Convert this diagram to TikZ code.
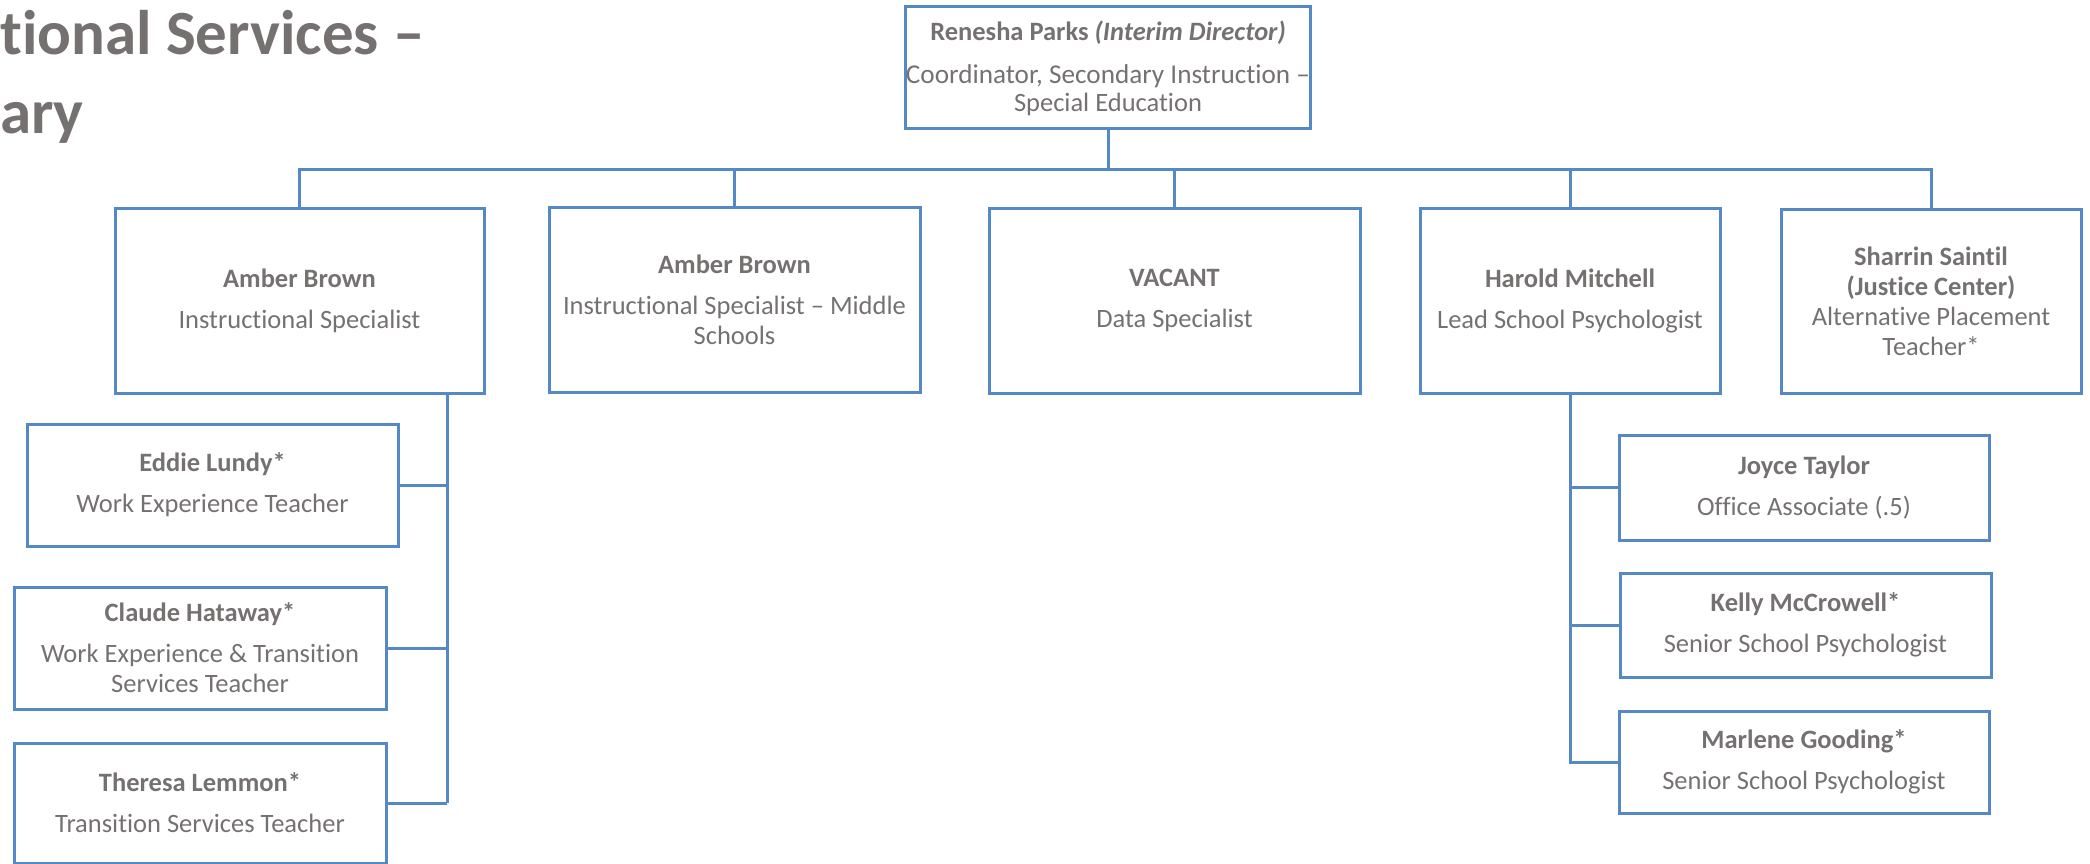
\documentclass[tikz,border=0pt]{standalone}
\usepackage{fontspec}
\setmainfont{Carlito}[Ligatures={NoCommon,NoContextual,NoRequired}]
\definecolor{boxblue}{HTML}{5489C5}
\definecolor{txtgray}{HTML}{767171}
\newcommand\nm[1]{\textbf{#1}}
\newcommand\ti{t\kern0pt i}
\begin{document}
\begin{tikzpicture}[x=1pt,y=-1pt,
  box/.style={draw=boxblue, line width=3pt, inner sep=0pt, align=center, text=txtgray,
    font=\fontsize{26.5}{30}\selectfont},
  conn/.style={draw=boxblue, line width=3pt}]
\useasboundingbox (0,0) rectangle (2090,864);
% title
\node[anchor=base west, inner sep=0pt, text=txtgray, font=\fontsize{63}{78}\selectfont\bfseries] (t1) at (0,55) {\ti onal Services –};
\node[anchor=base west, inner sep=0pt, text=txtgray, font=\fontsize{63}{78}\selectfont\bfseries] (t2) at (0,133) {ary};
% top
\node[box, minimum width=404pt, minimum height=122pt] (top) at (1108,68)
  {\nm{Renesha Parks \textit{(Interim Director)}}\\[13pt]{\fontsize{27.2}{30}\selectfont Coordinator, Secondary Instruc\ti on –}\\[-2pt]Special Educa\ti on};
% level 2
\node[box, minimum width=369pt, minimum height=185pt] (a1) at (299.5,300.5)
  {\nm{Amber Brown}\\[11pt]Instruc\ti onal Specialist};
\node[box, minimum width=371pt, minimum height=185pt] (a2) at (734.5,299.5)
  {\nm{Amber Brown}\\[11pt]Instruc\ti onal Specialist – Middle\\Schools};
\node[box, minimum width=371pt, minimum height=185pt] (v) at (1174.5,300.5)
  {\nm{VACANT}\\[11pt]Data Specialist};
\node[box, minimum width=300pt, minimum height=185pt] (h) at (1570,300.5)
  {\nm{Harold Mitchell}\\[11pt]Lead School Psychologist};
\node[box, minimum width=300pt, minimum height=184pt] (s) at (1931,301)
  {\nm{Sharrin Sain\ti l}\\\nm{(Jus\ti ce Center)}\\Alterna\ti ve Placement\\Teacher*};
% left subordinates
\node[box, minimum width=371pt, minimum height=122pt] (eddie) at (212.5,485)
  {\nm{Eddie Lundy*}\\[11pt]Work Experience Teacher};
\node[box, minimum width=372pt, minimum height=122pt] (claude) at (200,648)
  {\nm{Claude Hataway*}\\[11pt]Work Experience \& Transi\ti on\\Services Teacher};
\node[box, minimum width=372pt, minimum height=120pt] (theresa) at (200,803)
  {\nm{Theresa Lemmon*}\\[11pt]Transi\ti on Services Teacher};
% right subordinates
\node[box, minimum width=370pt, minimum height=105pt] (joyce) at (1804,487.5)
  {\nm{Joyce Taylor}\\[11pt]Office Associate (.5)};
\node[box, minimum width=371pt, minimum height=104pt] (kelly) at (1805.5,625)
  {\nm{Kelly McCrowell*}\\[11pt]Senior School Psychologist};
\node[box, minimum width=370pt, minimum height=102pt] (marlene) at (1804,762)
  {\nm{Marlene Gooding*}\\[11pt]Senior School Psychologist};
% connectors
\coordinate (bus) at (1108,169);
\draw[conn] (top.south) -- (bus);
\draw[conn] (bus) -| (a1.north);
\draw[conn] (bus) -| (a2.north);
\draw[conn] (bus) -| (v.north);
\draw[conn] (bus) -| (h.north);
\draw[conn] (bus) -| (s.north);
\coordinate (lbus) at (447,803);
\draw[conn] (a1.south -| lbus) -- (lbus);
\draw[conn] (eddie.east) -- (eddie.east -| lbus);
\draw[conn] (claude.east) -- (claude.east -| lbus);
\draw[conn] (theresa.east) -- (lbus);
\draw[conn] (h.south) |- (marlene.west);
\draw[conn] (h.south |- joyce.west) -- (joyce.west);
\draw[conn] (h.south |- kelly.west) -- (kelly.west);
\end{tikzpicture}
\end{document}
